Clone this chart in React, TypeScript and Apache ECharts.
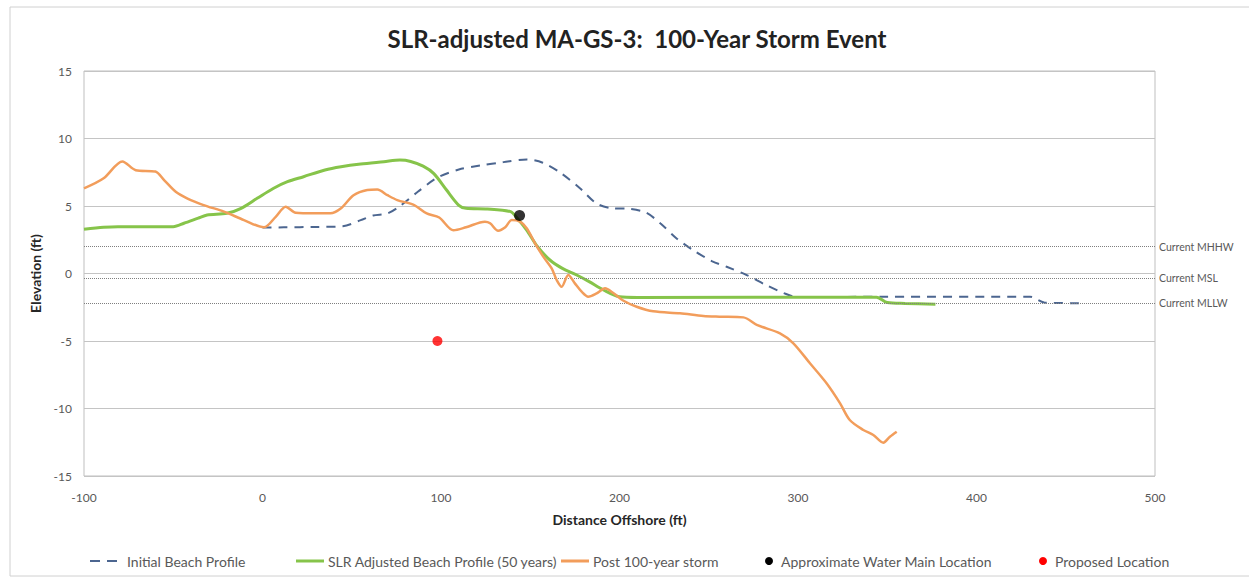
import React, { useEffect, useRef } from "react";
import * as echarts from "echarts";

const initialProfile: [number, number][] = [
  [0, 3.4], [12, 3.42], [30, 3.45], [45, 3.5], [55, 3.95], [62, 4.3], [70, 4.45], [77, 5.0],
  [87, 6.05], [98, 7.1], [110, 7.7], [122, 8.0], [135, 8.25], [148, 8.45], [157, 8.2],
  [167, 7.45], [178, 6.3], [187, 5.2], [195, 4.85], [206, 4.78], [215, 4.5], [223, 3.7],
  [232, 2.6], [241, 1.75], [252, 0.9], [260, 0.5], [271, -0.1], [282, -0.85], [292, -1.45],
  [300, -1.75], [350, -1.72], [430, -1.72], [438, -2.15], [460, -2.2],
];

const slrProfile: [number, number][] = [
  [-100, 3.27], [-89, 3.42], [-81, 3.47], [-50, 3.47], [-44, 3.72], [-36, 4.1], [-31, 4.33],
  [-20, 4.46], [-12, 4.83], [-3, 5.57], [6, 6.3], [14, 6.8], [23, 7.17], [35, 7.67], [44, 7.91],
  [55, 8.11], [68, 8.28], [77, 8.4], [83, 8.3], [90, 7.95], [96, 7.4], [103, 6.2], [110, 5.05],
  [114, 4.83], [126, 4.78], [139, 4.58], [142, 4.21], [148, 3.22], [154, 2.0], [161, 1.0],
  [168, 0.38], [176, -0.11], [183, -0.6], [191, -1.22], [200, -1.72], [210, -1.77],
  [344, -1.75], [350, -2.15], [360, -2.22], [377, -2.28],
];

const postStorm: [number, number][] = [
  [-100, 6.3], [-89, 7.05], [-78.5, 8.3], [-71, 7.65], [-60, 7.55], [-55, 6.9], [-48.6, 6.05],
  [-42, 5.55], [-33, 5.07], [-21.6, 4.58], [-10.4, 3.96], [0.8, 3.42], [7.4, 4.2], [13, 4.95],
  [18.6, 4.5], [29, 4.46], [38, 4.46], [44, 4.83], [51, 5.8], [58.7, 6.19], [64.3, 6.23],
  [70, 5.8], [75.5, 5.44], [85, 5.07], [92, 4.45], [99, 4.15], [107, 3.2], [114, 3.42],
  [124.6, 3.84], [127.5, 3.72], [132, 3.17], [136, 3.42], [139.6, 3.96], [144.3, 3.84],
  [148, 3.35], [152.7, 2.24], [157.3, 1.25], [162, 0.38], [164.8, -0.48], [167.6, -0.98],
  [171.3, -0.11], [175, -0.73], [178.8, -1.35], [182.5, -1.72], [187.2, -1.47], [191.9, -1.1],
  [196.5, -1.45], [202, -2.0], [209.6, -2.46], [218.9, -2.8], [233.9, -2.95], [247, -3.15],
  [256, -3.2], [269.4, -3.25], [276.9, -3.81], [289.9, -4.43], [297.4, -5.17], [306.7, -6.65],
  [316, -8.13], [323.5, -9.6], [329, -10.85], [336.6, -11.59], [342.2, -11.96], [347.8, -12.53],
  [351.5, -12.09], [355.3, -11.72],
];

const waterMain: [number, number][] = [[144, 4.3]];
const proposedLocation: [number, number][] = [[98, -5]];

const tidalNames = ["Current MHHW", "Current MSL", "Current MLLW"];
const tidalLevels = [2.0, -0.35, -2.2];

const seriesNames = [
  "Initial Beach Profile",
  "SLR Adjusted Beach Profile (50 years)",
  "Post 100-year storm",
  "Approximate Water Main Location",
  "Proposed Location",
];

const COLORS = {
  initial: "#4C6690",
  slr: "#86C44A",
  post: "#F29D5B",
  water: "#000000",
  proposed: "#FF0000",
};

const FONT = "Lato, 'Open Sans', sans-serif";

export default function App() {
  const ref = useRef<HTMLDivElement>(null);

  useEffect(() => {
    if (!ref.current) return;
    const chart = echarts.init(ref.current, undefined, { renderer: "svg" });

    const LY = 561;
    const legendText = (x: number, text: string) => ({
      type: "text",
      x,
      y: LY,
      silent: true,
      style: {
        text,
        fontFamily: FONT,
        fontSize: 14,
        fill: "#595959",
        verticalAlign: "middle",
        align: "left",
      },
    });
    const legendLine = (x1: number, x2: number, color: string, width: number, dash?: number[]) => ({
      type: "line",
      silent: true,
      shape: { x1, y1: LY, x2, y2: LY },
      style: { stroke: color, lineWidth: width, lineDash: dash || null },
    });
    const legendDot = (cx: number, color: string, r: number) => ({
      type: "circle",
      silent: true,
      shape: { cx, cy: LY, r },
      style: { fill: color },
    });

    const option: any = {
      animation: false,
      backgroundColor: "#ffffff",
      title: {
        text: "SLR-adjusted MA-GS-3:  100-Year Storm Event",
        left: 632,
        textAlign: "center",
        top: 21,
        textStyle: { fontFamily: FONT, fontSize: 24, fontWeight: "bold", color: "#222222" },
      },
      graphic: [
        {
          type: "rect",
          silent: true,
          shape: { x: 10, y: 7, width: 1250, height: 569 },
          style: { fill: "none", stroke: "#D0D0D0", lineWidth: 1 },
        },
        legendLine(90, 117, COLORS.initial, 2, [10, 7]),
        legendText(127, seriesNames[0]),
        legendLine(296, 324, COLORS.slr, 3),
        legendText(328, seriesNames[1]),
        legendLine(561, 589, COLORS.post, 3),
        legendText(593, seriesNames[2]),
        legendDot(769, COLORS.water, 4),
        legendText(781, seriesNames[3]),
        legendDot(1043, COLORS.proposed, 4),
        legendText(1055, seriesNames[4]),
      ],
      grid: {
        left: 84,
        right: 94,
        top: 71,
        bottom: 104,
        show: true,
        borderColor: "#BFBFBF",
        borderWidth: 1,
      },
      xAxis: {
        type: "value",
        min: -100,
        max: 500,
        interval: 100,
        name: "Distance Offshore (ft)",
        nameLocation: "middle",
        nameGap: 36,
        nameTextStyle: { fontFamily: FONT, fontSize: 14, fontWeight: "bold", color: "#262626" },
        axisLine: { show: false },
        axisTick: { show: false },
        splitLine: { show: false },
        axisLabel: { fontFamily: FONT, fontSize: 12, color: "#595959", margin: 15 },
      },
      yAxis: {
        type: "value",
        min: -15,
        max: 15,
        interval: 5,
        name: "Elevation (ft)",
        nameLocation: "middle",
        nameGap: 39,
        nameTextStyle: { fontFamily: FONT, fontSize: 14, fontWeight: "bold", color: "#262626" },
        axisLine: { show: false },
        axisTick: { show: false },
        splitLine: { show: true, lineStyle: { color: "#C4C4C4", width: 1 } },
        axisLabel: { fontFamily: FONT, fontSize: 12, color: "#595959", margin: 12 },
      },
      series: [
        {
          name: "tidal",
          type: "line",
          data: [],
          silent: true,
          markLine: {
            silent: true,
            symbol: "none",
            lineStyle: { type: "dotted", color: "#7F7F7F", width: 1 },
            label: {
              position: "end",
              distance: 4,
              fontFamily: FONT,
              fontSize: 10.5,
              color: "#595959",
              formatter: (p: any) => p.name,
            },
            data: tidalLevels.map((v, i) => ({ name: tidalNames[i], yAxis: v })),
          },
        },
        {
          name: seriesNames[0],
          type: "line",
          data: initialProfile,
          smooth: 0.3,
          showSymbol: false,
          symbol: "none",
          lineStyle: { color: COLORS.initial, width: 2, type: [9, 7] },
          itemStyle: { color: COLORS.initial },
          z: 3,
        },
        {
          name: seriesNames[1],
          type: "line",
          data: slrProfile,
          smooth: 0.3,
          showSymbol: false,
          symbol: "none",
          lineStyle: { color: COLORS.slr, width: 3 },
          itemStyle: { color: COLORS.slr },
          z: 4,
        },
        {
          name: seriesNames[2],
          type: "line",
          data: postStorm,
          smooth: 0.3,
          showSymbol: false,
          symbol: "none",
          lineStyle: { color: COLORS.post, width: 2.5 },
          itemStyle: { color: COLORS.post },
          z: 5,
        },
        {
          name: seriesNames[3],
          type: "scatter",
          data: waterMain,
          symbol: "circle",
          symbolSize: 11,
          itemStyle: { color: COLORS.water },
          z: 6,
        },
        {
          name: seriesNames[4],
          type: "scatter",
          data: proposedLocation,
          symbol: "circle",
          symbolSize: 10,
          itemStyle: { color: COLORS.proposed },
          z: 6,
        },
      ],
    };

    chart.setOption(option);
    return () => chart.dispose();
  }, []);

  return (
    <div
      ref={ref}
      style={{ position: "fixed", left: 0, top: 0, width: 1249, height: 580, background: "#fff" }}
    />
  );
}
